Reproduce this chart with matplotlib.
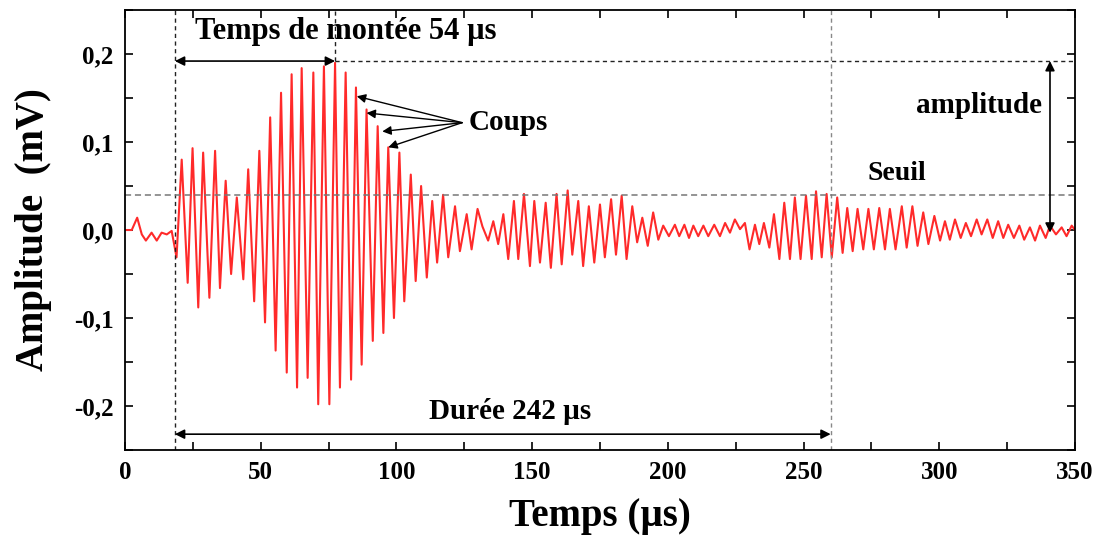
import numpy as np
import matplotlib
matplotlib.use("Agg")
import matplotlib.pyplot as plt
from matplotlib.ticker import MultipleLocator, FuncFormatter

plt.rcParams["font.family"] = ["Liberation Serif", "DejaVu Serif"]
plt.rcParams["font.weight"] = "bold"

# salve d'emission acoustique : extremums successifs du signal
temps = [0.0, 2.5, 4.5, 6.2, 7.7, 9.8, 11.7, 13.5, 15.4, 17.2,
         19.0, 20.9, 23.1, 24.9, 27.0, 28.8, 31.1, 33.2, 35.0, 37.1,
         39.1, 41.2, 43.6, 45.4, 47.6, 49.5, 51.6, 53.5, 55.5, 57.5,
         59.6, 61.4, 63.4, 65.1, 67.3, 69.4, 71.2, 73.3, 75.3, 77.4,
         79.2, 81.3, 83.3, 85.1, 87.2, 89.0, 91.3, 93.1, 95.2, 97.0,
         99.1, 101.1, 102.9, 105.3, 107.1, 109.1, 111.2, 113.2, 115.0, 117.2,
         119.1, 121.6, 123.4, 125.9, 127.7, 129.9, 131.7, 133.8, 135.7, 137.5,
         139.4, 141.2, 143.3, 144.9, 147.0, 149.2, 150.8, 152.9, 155.0, 156.9,
         159.0, 160.9, 163.1, 164.8, 167.0, 168.8, 170.9, 172.9, 175.0, 176.8,
         179.1, 180.9, 183.0, 184.8, 186.9, 188.7, 190.6, 192.6, 194.6, 196.5,
         198.3, 200.4, 202.6, 204.2, 206.1, 207.8, 209.4, 211.2, 213.1, 214.9,
         217.1, 219.2, 221.1, 222.9, 224.7, 226.6, 228.4, 230.1, 232.1, 233.7,
         235.4, 237.4, 239.1, 241.1, 242.9, 245.0, 246.8, 248.9, 250.9, 253.0,
         254.6, 256.7, 258.5, 260.4, 262.4, 264.4, 266.1, 268.1, 269.9, 272.0,
         273.9, 275.9, 277.9, 280.0, 281.8, 283.9, 286.2, 288.0, 290.1, 292.0,
         294.1, 296.0, 298.2, 300.3, 302.1, 303.9, 305.8, 307.9, 309.8, 311.7,
         313.8, 315.6, 317.7, 319.7, 321.7, 323.6, 325.4, 327.5, 329.5, 331.3,
         333.4, 335.3, 337.1, 339.2, 340.8, 343.0, 345.1, 346.9, 348.8, 350.0]

amplitude = [0.000, 0.000, 0.014, -0.005, -0.012, -0.003, -0.012, -0.003, -0.005, -0.001,
             -0.031, 0.080, -0.060, 0.093, -0.088, 0.088, -0.077, 0.090, -0.066, 0.056,
             -0.050, 0.037, -0.056, 0.069, -0.081, 0.090, -0.105, 0.128, -0.137, 0.156,
             -0.162, 0.177, -0.179, 0.184, -0.168, 0.179, -0.198, 0.186, -0.198, 0.190,
             -0.179, 0.179, -0.170, 0.162, -0.153, 0.137, -0.126, 0.118, -0.117, 0.094,
             -0.100, 0.088, -0.081, 0.063, -0.058, 0.050, -0.054, 0.033, -0.037, 0.040,
             -0.031, 0.027, -0.024, 0.018, -0.022, 0.024, 0.004, -0.012, 0.010, -0.016,
             0.018, -0.033, 0.033, -0.033, 0.041, -0.041, 0.033, -0.037, 0.031, -0.043,
             0.041, -0.039, 0.045, -0.028, 0.033, -0.041, 0.027, -0.037, 0.029, -0.031,
             0.035, -0.028, 0.039, -0.033, 0.027, -0.014, 0.014, -0.018, 0.020, -0.011,
             0.005, -0.007, 0.006, -0.007, 0.006, -0.009, 0.005, -0.007, 0.005, -0.007,
             0.006, -0.007, 0.008, -0.003, 0.012, 0.001, 0.008, -0.022, 0.006, -0.016,
             0.008, -0.020, 0.018, -0.033, 0.031, -0.033, 0.037, -0.033, 0.039, -0.033,
             0.044, -0.031, 0.041, -0.031, 0.037, -0.026, 0.025, -0.024, 0.024, -0.022,
             0.024, -0.022, 0.025, -0.022, 0.024, -0.022, 0.027, -0.020, 0.027, -0.018,
             0.020, -0.016, 0.016, -0.012, 0.010, -0.011, 0.012, -0.009, 0.008, -0.007,
             0.012, -0.005, 0.012, -0.009, 0.010, -0.009, 0.006, -0.009, 0.005, -0.011,
             0.003, -0.012, 0.005, -0.009, 0.005, -0.005, 0.003, -0.007, 0.005, 0.000]

# repères de la salve
t_debut = 18.4
t_pic = 77.4
t_fin = 260.0
seuil = 0.040
v_max = 0.192
x_amp = 340.8

# extremums designes par "Coups"
coups_t = [85.4, 89.0, 94.8, 97.0]
coups_v = [0.152, 0.133, 0.112, 0.094]

fig = plt.figure(figsize=(11.04, 5.39), dpi=100)
ax = fig.add_axes([0.1132, 0.1651, 0.8605, 0.8163])

ax.plot(temps, amplitude, color="#ff2a2a", lw=1.5,
        solid_joinstyle="round", solid_capstyle="round")

ax.set_xlim(0, 350)
ax.set_ylim(-0.25, 0.25)

dash = (0, (3, 2.5))
ax.axvline(t_debut, color="#222222", lw=1.0, ls=dash)
ax.axvline(t_fin, color="#888888", lw=1.0, ls=dash)
ax.axhline(seuil, color="#777777", lw=1.1, ls=(0, (4, 2.5)))
ax.plot([t_pic, 350], [v_max, v_max], color="#222222", lw=1.0, ls=dash)
ax.plot([t_pic, t_pic], [v_max, 0.25], color="#222222", lw=1.0, ls=dash)

fleche = dict(arrowstyle="<|-|>", color="black", lw=1.2, mutation_scale=14,
              shrinkA=0, shrinkB=0)
ax.annotate("", xy=(t_debut, v_max), xytext=(t_pic, v_max), arrowprops=fleche)
ax.annotate("", xy=(t_debut, -0.232), xytext=(t_fin, -0.232), arrowprops=fleche)
ax.annotate("", xy=(x_amp, v_max), xytext=(x_amp, -0.003), arrowprops=fleche)

for t, v in zip(coups_t, coups_v):
    ax.annotate("", xy=(t, v), xytext=(124.2, 0.122),
                arrowprops=dict(arrowstyle="-|>", color="black", lw=1.0,
                                mutation_scale=13, shrinkA=0, shrinkB=0))

ax.text(25.8, 0.226, "Temps de montée 54 µs", fontsize=22, fontweight="bold",
        ha="left", va="center")
ax.text(141.8, -0.206, "Durée 242 µs", fontsize=21, fontweight="bold",
        ha="center", va="center")
ax.text(126.5, 0.122, "Coups", fontsize=21, fontweight="bold", ha="left", va="center")
ax.text(284.4, 0.064, "Seuil", fontsize=20, fontweight="bold", ha="center", va="center")
ax.text(338.0, 0.141, "amplitude", fontsize=21, fontweight="bold", ha="right", va="center")

ax.xaxis.set_major_locator(MultipleLocator(50))
ax.xaxis.set_minor_locator(MultipleLocator(25))
ax.yaxis.set_major_locator(MultipleLocator(0.1))
ax.yaxis.set_minor_locator(MultipleLocator(0.05))
ax.yaxis.set_major_formatter(FuncFormatter(lambda v, p: f"{v:.1f}".replace(".", ",").replace("-0,0", "0,0")))
ax.tick_params(which="both", direction="in", top=True, right=True, width=1.2)
ax.tick_params(which="major", length=6, labelsize=18, pad=8)
ax.tick_params(which="minor", length=6)
for lab in ax.get_xticklabels() + ax.get_yticklabels():
    lab.set_fontweight("bold")
for s in ax.spines.values():
    s.set_linewidth(1.3)

ax.set_xlabel("Temps (µs)", fontsize=28, fontweight="bold", labelpad=10)
ax.set_ylabel("Amplitude  (mV)", fontsize=28, fontweight="bold", labelpad=16)

fig.savefig("out.png", dpi=100)
